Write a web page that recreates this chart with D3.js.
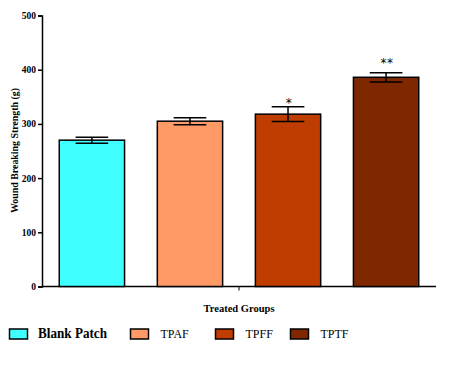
<!DOCTYPE html>
<html>
<head>
<meta charset="utf-8">
<script src="https://cdn.jsdelivr.net/npm/d3@7"></script>
<style>
  body { margin: 0; background: #fff; }
  svg { display: block; }
</style>
</head>
<body>
<div id="chart"></div>
<script>
const groups = ['Blank Patch', 'TPAF', 'TPFF', 'TPTF']
const strength = [270, 305, 318, 386]
const errors = [5.5, 6.5, 13.5, 8.5]
const marks = ['', '', '*', '**']
const colors = ['#3fffff', '#ff9966', '#bf3d00', '#7f2800']
const yTicks = [0, 100, 200, 300, 400, 500]

const width = 453
const height = 372
const margin = ({ top: 15.5, right: 17, bottom: 85.5, left: 42 })

const svg = d3.select('#chart').append('svg')
  .attr('width', width)
  .attr('height', height)

let xScale = d3.scaleBand()
  .domain(groups)
  .range([margin.left, width - margin.right])
  .paddingInner(0.334)
  .paddingOuter(0.176)

let yScale = d3.scaleLinear()
  .domain([0, 500])
  .range([height - margin.bottom, margin.top])

const serif = '"Liberation Serif", "Times New Roman", serif'

// y axis
let yAxis = d3.axisLeft(yScale).tickValues(yTicks).tickSize(4).tickPadding(2)
const gy = svg.append('g')
  .attr('transform', 'translate(' + margin.left + ',0)')
  .call(yAxis)
gy.select('.domain').attr('stroke', '#000').attr('stroke-width', 1.5)
gy.selectAll('.tick line').attr('stroke', '#000').attr('stroke-width', 1.5)
gy.selectAll('.tick text')
  .style('font-family', serif)
  .style('font-weight', 700)
  .style('font-size', '9.5px')
  .attr('fill', '#000')

// x axis: plain line with a single tick in the middle
const y0 = yScale(0)
svg.append('line')
  .attr('x1', margin.left).attr('x2', width - margin.right)
  .attr('y1', y0).attr('y2', y0)
  .attr('stroke', '#000').attr('stroke-width', 1.5)
const xMid = (margin.left + width - margin.right) / 2
svg.append('line')
  .attr('x1', xMid).attr('x2', xMid)
  .attr('y1', y0).attr('y2', y0 + 4)
  .attr('stroke', '#000').attr('stroke-width', 1)

// bars
svg.append('g')
  .selectAll('rect')
  .data(groups)
  .enter().append('rect')
  .attr('x', d => xScale(d))
  .attr('y', (d, i) => yScale(strength[i]))
  .attr('width', xScale.bandwidth())
  .attr('height', (d, i) => y0 - yScale(strength[i]))
  .attr('fill', (d, i) => colors[i])
  .attr('stroke', '#000')
  .attr('stroke-width', 1.5)

// error bars + significance stars
const capHalf = xScale.bandwidth() / 4
const eb = svg.append('g').attr('stroke', '#000').attr('stroke-width', 1.5)
groups.forEach((g, i) => {
  const cx = xScale(g) + xScale.bandwidth() / 2
  const hi = yScale(strength[i] + errors[i])
  const lo = yScale(strength[i] - errors[i])
  eb.append('line').attr('x1', cx).attr('x2', cx).attr('y1', hi).attr('y2', lo)
  eb.append('line').attr('x1', cx - capHalf).attr('x2', cx + capHalf).attr('y1', hi).attr('y2', hi)
  eb.append('line').attr('x1', cx - capHalf).attr('x2', cx + capHalf).attr('y1', lo).attr('y2', lo)
  if (marks[i]) {
    svg.append('text')
      .attr('x', cx + 1)
      .attr('y', marks[i].length > 1 ? hi - 5.5 : hi + 0.5)
      .attr('text-anchor', 'middle')
      .style('font-family', '"DejaVu Sans", sans-serif')
      .style('font-size', '12px')
      .style('letter-spacing', '0.5px')
      .text(marks[i])
  }
})

// axis titles
svg.append('text')
  .attr('transform', 'translate(18,' + 150.5 + ') rotate(-90)')
  .attr('text-anchor', 'middle')
  .style('font-family', serif)
  .style('font-weight', 700)
  .style('font-size', '9.5px')
  .attr('textLength', 125)
  .attr('lengthAdjust', 'spacingAndGlyphs')
  .text('Wound Breaking Strength (g)')

svg.append('text')
  .attr('x', xMid)
  .attr('y', 312)
  .attr('text-anchor', 'middle')
  .style('font-family', serif)
  .style('font-weight', 700)
  .style('font-size', '9.5px')
  .attr('textLength', 71)
  .attr('lengthAdjust', 'spacingAndGlyphs')
  .text('Treated Groups')

// legend
const legendX = [9.5, 130.5, 215.5, 290.5]
const legend = svg.append('g')
groups.forEach((g, i) => {
  legend.append('rect')
    .attr('x', legendX[i]).attr('y', 329)
    .attr('width', 18).attr('height', 10)
    .attr('fill', colors[i])
    .attr('stroke', '#000')
    .attr('stroke-width', 1.5)
  const t = legend.append('text')
    .attr('x', legendX[i] + (i === 0 ? 28.5 : 30))
    .attr('y', 338)
    .style('font-family', serif)
    .style('font-weight', i === 0 ? 700 : 400)
    .style('font-size', i === 0 ? '14px' : '12px')
    .text(g)
  if (i === 0) t.attr('textLength', 69).attr('lengthAdjust', 'spacingAndGlyphs')
})
</script>
</body>
</html>
